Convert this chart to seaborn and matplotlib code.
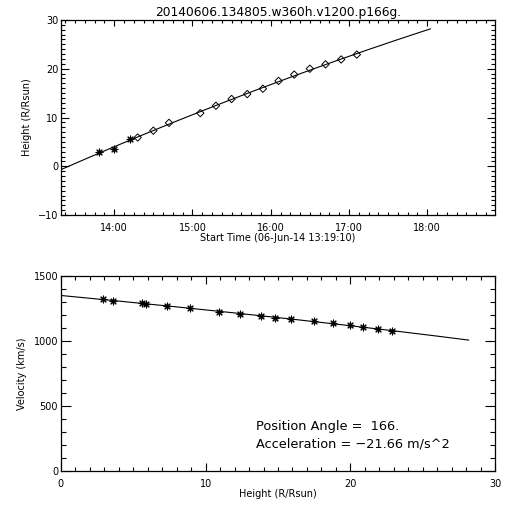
import numpy as np
import pandas as pd
import seaborn as sns
import matplotlib.pyplot as plt
import matplotlib.dates as mdates
from matplotlib.ticker import MultipleLocator, AutoMinorLocator

sns.set_style("ticks")
plt.rcParams.update({'font.family': ['DejaVu Sans'],
                     'text.color': 'k',
                     'axes.labelcolor': 'k',
                     'axes.linewidth': 0.9,
                     'xtick.labelsize': 7,
                     'ytick.labelsize': 7,
                     'axes.labelsize': 7})

# Height-time measurements, 06-Jun-2014 (C2 = asterisks, C3 = diamonds)
day = '2014-06-06 '
start_time = '13:19:10'
end_axis = '18:52:00'
fit_end = '18:02:30'
c2_times = ['13:48', '14:00', '14:12']
c2_heights = [2.9, 3.6, 5.6]
c3_times = ['14:18', '14:30', '14:42', '15:06', '15:18', '15:30', '15:42',
            '15:54', '16:06', '16:18', '16:30', '16:42', '16:54', '17:06']
c3_heights = [5.9, 7.3, 8.9, 10.9, 12.4, 13.8, 14.8, 15.9, 17.5, 18.8,
              20.0, 20.9, 21.9, 22.9]
title = '20140606.134805.w360h.v1200.p166g.'
pos_angle = '166.'
accel_text = '-21.66'

RSUN = 6.96e5  # km

t0 = pd.Timestamp(day + start_time)
times = pd.to_datetime([day + t for t in c2_times + c3_times])
heights = np.array(c2_heights + c3_heights)
secs = (times - t0).total_seconds().values

# quadratic fit of height vs time
coef = np.polyfit(secs, heights * RSUN, 2)
t_end = (pd.Timestamp(day + fit_end) - t0).total_seconds()
tt = np.linspace(0, t_end, 200)
fit_h = np.polyval(coef, tt) / RSUN
fit_v = np.polyval(np.polyder(coef), tt)
pt_v = np.polyval(np.polyder(coef), secs)

fig = plt.figure(figsize=(5.12, 5.12), dpi=100)
ax1 = fig.add_axes([0.119, 0.580, 0.848, 0.381])
ax2 = fig.add_axes([0.119, 0.080, 0.848, 0.381])

# ---- top: height vs time
fit_df = pd.DataFrame({'time': t0 + pd.to_timedelta(tt, unit='s'), 'h': fit_h})
sns.lineplot(data=fit_df, x='time', y='h', ax=ax1, color='k', linewidth=0.8,
             sort=False, estimator=None)
sns.scatterplot(x=times[:3], y=heights[:3], ax=ax1, marker=(8, 2, 0), s=24,
                color='k', linewidth=0.8)
sns.scatterplot(x=times[3:], y=heights[3:], ax=ax1, marker='D', s=14,
                facecolor='none', edgecolor='k', linewidth=0.7)
ax1.set_xlim(t0, pd.Timestamp(day + end_axis))
ax1.set_ylim(-10, 30)
ax1.xaxis.set_major_locator(mdates.HourLocator())
ax1.xaxis.set_minor_locator(AutoMinorLocator(8))
ax1.xaxis.set_major_formatter(mdates.DateFormatter('%H:%M'))
ax1.yaxis.set_major_locator(MultipleLocator(10))
ax1.yaxis.set_minor_locator(MultipleLocator(1))
ax1.set_xlabel('Start Time (06-Jun-14 13:19:10)', labelpad=0)
ax1.set_ylabel('Height (R/Rsun)', labelpad=4)
ax1.set_title(title, fontsize=8.8, pad=3)
ax1.tick_params(axis='x', which='major', length=4, pad=6)
ax1.tick_params(axis='x', which='minor', length=2)
ax1.tick_params(axis='y', which='major', length=6, pad=2)
ax1.tick_params(axis='y', which='minor', length=3)

# ---- bottom: velocity vs height
sns.lineplot(x=fit_h, y=fit_v, ax=ax2, color='k', linewidth=0.8,
             sort=False, estimator=None)
sns.scatterplot(x=heights, y=pt_v, ax=ax2, marker=(8, 2, 0), s=24,
                color='k', linewidth=0.8)
ax2.set_xlim(0, 30)
ax2.set_ylim(0, 1500)
ax2.xaxis.set_major_locator(MultipleLocator(10))
ax2.xaxis.set_minor_locator(MultipleLocator(1))
ax2.yaxis.set_major_locator(MultipleLocator(500))
ax2.yaxis.set_minor_locator(MultipleLocator(100))
ax2.set_xlabel('Height (R/Rsun)', labelpad=0)
ax2.set_ylabel('Velocity (km/s)', labelpad=5)
ax2.tick_params(axis='x', which='major', length=6, pad=6)
ax2.tick_params(axis='x', which='minor', length=3)
ax2.tick_params(axis='y', which='major', length=7, pad=2)
ax2.tick_params(axis='y', which='minor', length=3.5)
ax2.text(13.5, 340, 'Position Angle =  ' + pos_angle, fontsize=9.3, va='center')
ax2.text(13.5, 205, 'Acceleration = \u2212' + accel_text.lstrip('-') + ' m/s^2',
         fontsize=9.3, va='center')

for ax in (ax1, ax2):
    ax.tick_params(which='both', direction='in', top=True, right=True,
                   width=0.8, colors='k')
    for s in ax.spines.values():
        s.set_color('k')

fig.savefig('out.png', dpi=100, facecolor='white')
